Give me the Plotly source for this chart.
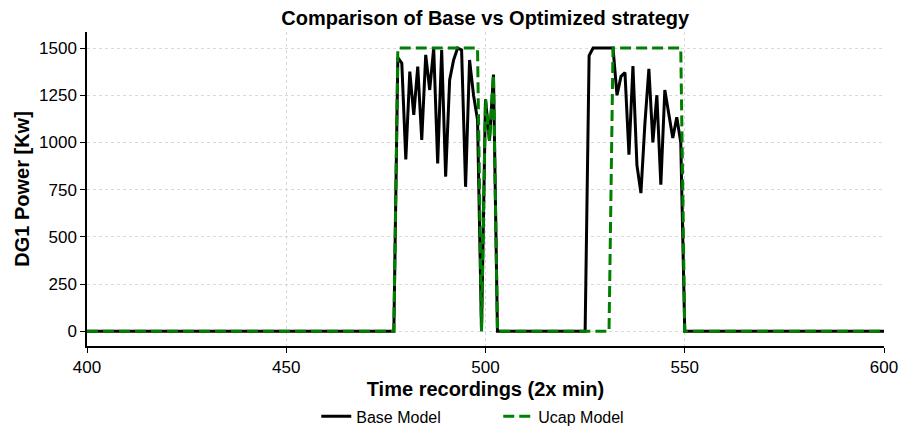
import numpy as np
import plotly.graph_objects as go

# ---- data ----
time_start, time_end = 400, 600
time = list(range(time_start, time_end + 1))

# Base model: non-zero blocks (start index, values)
base_block1_start = 478
base_block1 = [1450, 1420, 910, 1375, 1146, 1402, 1013, 1464, 1278, 1500, 889, 1490,
               819, 1331, 1437, 1500, 1490, 765, 1437, 1250, 1120, 0, 1230, 1010, 1360]
base_block2_start = 526
base_block2 = [1460, 1500, 1500, 1500, 1500, 1500, 1500, 1250, 1350, 1370, 935, 1405,
               880, 732, 1100, 1390, 1000, 1250, 776, 1278, 1150, 1024, 1133, 1000]

# Ucap model: non-zero blocks
ucap_block1_start = 478
ucap_block1 = [1500] * 21 + [0, 1230, 1010, 1360]
ucap_block2_start = 532
ucap_block2 = [1500] * 18

y_ticks = [0, 250, 500, 750, 1000, 1250, 1500]
x_ticks = [400, 450, 500, 550, 600]


def build(blocks):
    arr = np.zeros(len(time))
    for start, vals in blocks:
        i = start - time_start
        arr[i:i + len(vals)] = vals
    return arr


base = build([(base_block1_start, base_block1), (base_block2_start, base_block2)])
ucap = build([(ucap_block1_start, ucap_block1), (ucap_block2_start, ucap_block2)])

FONT = "Liberation Sans, Arial, sans-serif"

fig = go.Figure()
fig.add_trace(go.Scatter(x=time, y=base, mode="lines", name="Base Model",
                         line=dict(color="#000000", width=3)))
fig.add_trace(go.Scatter(x=time, y=ucap, mode="lines", name="Ucap Model",
                         line=dict(color="#008000", width=3, dash="11px,5px")))

fig.update_layout(
    width=901, height=427,
    margin=dict(l=87, r=17, t=32, b=81, autoexpand=False),
    paper_bgcolor="white", plot_bgcolor="white",
    font=dict(family=FONT, color="black"),
    title=dict(text="<b>Comparison of Base vs Optimized strategy</b>",
               x=0.5385, xanchor="center", y=1 - 18 / 427, yanchor="middle",
               font=dict(size=20, family=FONT, color="black")),
    showlegend=True,
    legend=dict(orientation="h", x=0.516, xanchor="center", y=-0.17, yanchor="top",
                entrywidth=137, entrywidthmode="pixels",
                font=dict(size=16, family=FONT), bgcolor="rgba(0,0,0,0)"),
)
fig.update_xaxes(
    range=[400, 600], tickvals=x_ticks, ticks="outside", ticklen=5, tickwidth=1,
    tickcolor="black", showline=True, linecolor="black", linewidth=1.5,
    showgrid=True, gridcolor="#d9d9d9", griddash="dot", gridwidth=1,
    zeroline=False, tickfont=dict(size=17, family=FONT),
    title=dict(text="<b>Time recordings (2x min)</b>", font=dict(size=20, family=FONT),
               standoff=6),
)
fig.update_yaxes(
    range=[-78, 1585], tickvals=y_ticks, ticks="outside", ticklen=5, tickwidth=1,
    tickcolor="black", showline=True, linecolor="black", linewidth=1.5,
    showgrid=True, gridcolor="#d9d9d9", griddash="dot", gridwidth=1,
    zeroline=False, tickfont=dict(size=17, family=FONT),
    title=dict(text="<b>DG1 Power [Kw]</b>", font=dict(size=20, family=FONT),
               standoff=4),
)

fig.write_html("out.html")
